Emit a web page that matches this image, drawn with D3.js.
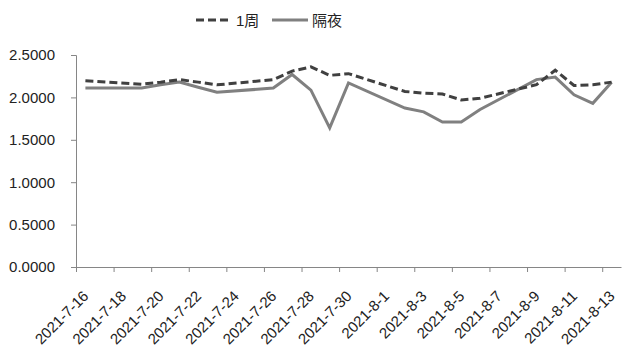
<!DOCTYPE html>
<html>
<head>
<meta charset="utf-8">
<script src="https://cdn.jsdelivr.net/npm/d3@7"></script>
<style>
    body { margin: 0; background: #fff; }
    svg { display: block; }
    text { font-family: "Liberation Sans", "Noto Sans CJK SC", sans-serif; }
</style>
</head>
<body>
<div id="chart"></div>
<script>
// trading days (weekends skipped)
const dates = [
    "2021-07-16", "2021-07-19", "2021-07-20", "2021-07-21", "2021-07-22", "2021-07-23",
    "2021-07-26", "2021-07-27", "2021-07-28", "2021-07-29", "2021-07-30",
    "2021-08-02", "2021-08-03", "2021-08-04", "2021-08-05", "2021-08-06",
    "2021-08-09", "2021-08-10", "2021-08-11", "2021-08-12", "2021-08-13"
];
const week1 = [
    2.195, 2.156, 2.18, 2.21, 2.18, 2.148,
    2.21, 2.31, 2.36, 2.26, 2.28,
    2.07, 2.05, 2.04, 1.97, 1.99,
    2.15, 2.32, 2.14, 2.15, 2.18
];
const overnight = [
    2.11, 2.11, 2.15, 2.18, 2.12, 2.06,
    2.11, 2.27, 2.085, 1.64, 2.17,
    1.875, 1.83, 1.71, 1.71, 1.857,
    2.21, 2.24, 2.03, 1.93, 2.18
];
const tickDates = [
    "2021-07-16", "2021-07-18", "2021-07-20", "2021-07-22", "2021-07-24",
    "2021-07-26", "2021-07-28", "2021-07-30", "2021-08-01", "2021-08-03",
    "2021-08-05", "2021-08-07", "2021-08-09", "2021-08-11", "2021-08-13"
];
const yTicks = [0, 0.5, 1.0, 1.5, 2.0, 2.5];
const seriesNames = ["1周", "隔夜"];

const W = 622, H = 353;
const m = {left: 76, right: 1, top: 55, bottom: 87};

const parse = d3.utcParse("%Y-%m-%d");
const fmtTick = d3.utcFormat("%Y-%-m-%-d");

const svg = d3.select("#chart").append("svg")
    .attr("width", W)
    .attr("height", H);

const x = d3.scaleUtc()
    .domain([parse("2021-07-16"), parse("2021-08-14")])
    .range([m.left, W - m.right]);

const y = d3.scaleLinear()
    .domain([0, 2.5])
    .range([H - m.bottom + 1, m.top]);

// y axis
const gy = svg.append("g")
    .attr("transform", `translate(${m.left},0)`)
    .call(d3.axisLeft(y).tickValues(yTicks).tickFormat(d3.format(".4f")).tickSize(5).tickPadding(16));
gy.select(".domain").attr("stroke", "#868686");
gy.selectAll(".tick line").attr("stroke", "#868686");
gy.selectAll("text").attr("font-size", "15px").attr("fill", "#222");

// x axis
const gx = svg.append("g")
    .attr("transform", `translate(0,${y(0)})`)
    .call(d3.axisBottom(x).tickValues(tickDates.map(parse)).tickFormat(fmtTick).tickSize(5).tickSizeOuter(0));
gx.select(".domain").attr("stroke", "#868686");
gx.selectAll(".tick line").attr("stroke", "#868686");
gx.selectAll("text")
    .attr("font-size", "15px")
    .attr("fill", "#222")
    .attr("text-anchor", "end")
    .attr("dy", null)
    .attr("y", 0)
    .attr("transform", "translate(13,30) rotate(-45)");

// data, each point in the middle of its day
const rows = dates.map((d, i) => ({
    date: d3.utcHour.offset(parse(d), 12),
    w: week1[i],
    o: overnight[i]
}));

const line = key => d3.line()
    .x(d => x(d.date))
    .y(d => y(d[key]));

svg.append("path")
    .datum(rows)
    .attr("fill", "none")
    .attr("stroke", "#808080")
    .attr("stroke-width", 3)
    .attr("stroke-linejoin", "miter")
    .attr("d", line("o"));

svg.append("path")
    .datum(rows)
    .attr("fill", "none")
    .attr("stroke", "#404040")
    .attr("stroke-width", 3)
    .attr("stroke-dasharray", "8,4")
    .attr("d", line("w"));

// legend
const legend = svg.append("g");
const items = [
    {name: seriesNames[0], color: "#404040", dash: "8,4", x0: 196},
    {name: seriesNames[1], color: "#808080", dash: null, x0: 272}
];
items.forEach(it => {
    legend.append("line")
        .attr("x1", it.x0).attr("x2", it.x0 + 36)
        .attr("y1", 20).attr("y2", 20)
        .attr("stroke", it.color)
        .attr("stroke-width", 3)
        .attr("stroke-dasharray", it.dash);
    legend.append("text")
        .attr("x", it.x0 + 40)
        .attr("y", 25.5)
        .attr("font-size", "15px")
        .attr("fill", "#222")
        .text(it.name);
});
</script>
</body>
</html>
